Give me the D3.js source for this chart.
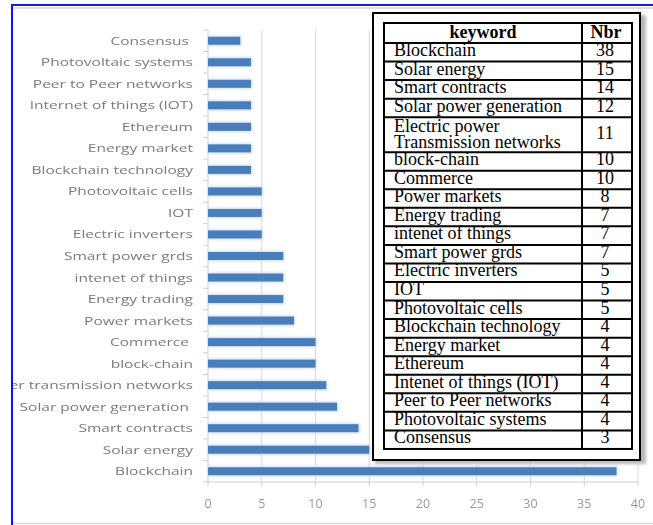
<!DOCTYPE html>
<html>
<head>
<meta charset="utf-8">
<script src="https://cdn.jsdelivr.net/npm/d3@7"></script>
<style>
  html, body { margin: 0; padding: 0; background: #fff; }
  svg { display: block; }
</style>
</head>
<body>
<svg id="chart" width="653" height="525"></svg>
<script>
// ---- data ----
const tableKeywords = [
  "Blockchain", "Solar energy", "Smart contracts", "Solar power generation",
  "Electric power\nTransmission networks", "block-chain", "Commerce", "Power markets",
  "Energy trading", "intenet of things", "Smart power grds", "Electric inverters",
  "IOT", "Photovoltaic cells", "Blockchain technology", "Energy market",
  "Ethereum", "Intenet of things (IOT)", "Peer to Peer networks",
  "Photovoltaic systems", "Consensus"
];
const chartLabels = [
  "Blockchain", "Solar energy", "Smart contracts", "Solar power generation ",
  "Electric power transmission networks", "block-chain", "Commerce ", "Power markets",
  "Energy trading", "intenet of things", "Smart power grds", "Electric inverters",
  "IOT", "Photovoltaic cells", "Blockchain technology", "Energy market",
  "Ethereum", "Internet of things (IOT)", "Peer to Peer networks",
  "Photovoltaic systems", "Consensus "
];
const counts = [38, 15, 14, 12, 11, 10, 10, 8, 7, 7, 7, 5, 5, 5, 4, 4, 4, 4, 4, 4, 3];
const xTicks = [0, 5, 10, 15, 20, 25, 30, 35, 40];
const tableHeader = ["keyword", "Nbr"];

// ---- setup ----
const svg = d3.select("#chart");
const defs = svg.append("defs");
defs.append("clipPath").attr("id", "frameClip")
  .append("rect").attr("x", 13).attr("y", 7).attr("width", 640).attr("height", 518);
const soft = defs.append("filter").attr("id", "soft").attr("x", "-5%").attr("y", "-20%").attr("width", "110%").attr("height", "140%");
soft.append("feGaussianBlur").attr("stdDeviation", 0.35);
const glow = defs.append("filter").attr("id", "glow").attr("x", "-5%").attr("y", "-60%").attr("width", "110%").attr("height", "220%");
glow.append("feGaussianBlur").attr("stdDeviation", 1.6);
const shadow = defs.append("filter").attr("id", "shadow").attr("x", "-10%").attr("y", "-10%").attr("width", "120%").attr("height", "120%");
shadow.append("feGaussianBlur").attr("stdDeviation", 1.5);

// frame
svg.append("line").attr("x1", 13).attr("x2", 653).attr("y1", 8).attr("y2", 8)
  .attr("stroke", "#d4d4d4").attr("stroke-width", 1.5);
svg.append("line").attr("x1", 13).attr("x2", 653).attr("y1", 523.5).attr("y2", 523.5)
  .attr("stroke", "#dcdcdc").attr("stroke-width", 1.5);

const plot = svg.append("g").attr("clip-path", "url(#frameClip)");

const x = d3.scaleLinear().domain([0, 40]).range([208, 638]);
const topDown = chartLabels.map((d, i) => i).reverse();
const y = d3.scaleBand().domain(topDown).range([30, 482]).paddingInner(0).paddingOuter(0);

// gridlines
plot.append("g").selectAll("line").data(xTicks.filter(t => t > 0)).join("line")
  .attr("x1", d => x(d)).attr("x2", d => x(d))
  .attr("y1", 30).attr("y2", 482)
  .attr("stroke", "#d9d9d9").attr("stroke-width", 1);

// y axis line & ticks
plot.append("line").attr("x1", x(0)).attr("x2", x(0)).attr("y1", 30).attr("y2", 482)
  .attr("stroke", "#d0d0d0").attr("stroke-width", 1);
const yEdges = topDown.map(i => y(i)).concat([y.range()[1]]);
plot.append("g").selectAll("line").data(yEdges).join("line")
  .attr("x1", x(0) - 5).attr("x2", x(0))
  .attr("y1", d => d).attr("y2", d => d)
  .attr("stroke", "#e6c9a8").attr("stroke-width", 1);

// bars glow
const barH = 8;
plot.append("g").attr("filter", "url(#glow)").selectAll("rect").data(counts).join("rect")
  .attr("x", x(0))
  .attr("y", (d, i) => y(i) + y.bandwidth() / 2 - barH / 2 - 1)
  .attr("width", d => x(d) - x(0) + 1)
  .attr("height", barH + 2)
  .attr("fill", "#c9dcf2");
plot.append("g").selectAll("rect").data(counts).join("rect")
  .attr("x", x(0))
  .attr("y", (d, i) => y(i) + y.bandwidth() / 2 - barH / 2)
  .attr("width", d => x(d) - x(0))
  .attr("height", barH)
  .attr("fill", "#4a7ebb");

// x axis
plot.append("line").attr("x1", x(0)).attr("x2", x(40)).attr("y1", 482).attr("y2", 482)
  .attr("stroke", "#cfcfb8").attr("stroke-width", 1);
plot.append("g").selectAll("line").data(xTicks).join("line")
  .attr("x1", d => x(d)).attr("x2", d => x(d)).attr("y1", 482).attr("y2", 486)
  .attr("stroke", "#d0d0c0").attr("stroke-width", 1);
plot.append("g").attr("filter", "url(#soft)").selectAll("text").data(xTicks).join("text")
  .attr("x", d => x(d)).attr("y", 508)
  .attr("text-anchor", "middle")
  .attr("font-family", "'Open Sans', sans-serif").attr("font-size", 12.5)
  .attr("fill", "#999999")
  .text(d => d);

// category labels
plot.append("g").attr("filter", "url(#soft)").selectAll("text").data(chartLabels).join("text")
  .attr("transform", (d, i) => `translate(193,${y(i) + y.bandwidth() / 2 + 4}) scale(1.35,1)`)
  .attr("text-anchor", "end")
  .style("white-space", "pre")
  .attr("font-family", "'Open Sans', sans-serif").attr("font-size", 11.5)
  .attr("fill", "#7a7a7a")
  .text(d => d);

// blue frame
svg.append("line").attr("x1", 12).attr("x2", 12).attr("y1", 4).attr("y2", 525)
  .attr("stroke", "#1010ff").attr("stroke-width", 2);
svg.append("line").attr("x1", 11).attr("x2", 653).attr("y1", 5).attr("y2", 5)
  .attr("stroke", "#1a1af0").attr("stroke-width", 2);

// ---- table ----
const box = { x0: 372, y0: 12, x1: 641, y1: 461 };
svg.append("rect").attr("x", box.x0 + 3).attr("y", box.y0 + 3)
  .attr("width", box.x1 - box.x0 + 2).attr("height", box.y1 - box.y0)
  .attr("fill", "#b8b8b8").attr("filter", "url(#shadow)");
svg.append("rect").attr("x", box.x0 + 1).attr("y", box.y0 + 1)
  .attr("width", box.x1 - box.x0 - 2).attr("height", box.y1 - box.y0 - 2)
  .attr("fill", "#fff").attr("stroke", "#000").attr("stroke-width", 2);

const tX0 = 384, tX1 = 632, tCol = 582, tY0 = 23;
const headH = 20, rowH = 18.55, lineStep = 16.4;
const rows = [];
let cy = tY0 + headH;
tableKeywords.forEach((k, i) => {
  const lines = k.split("\n");
  const h = rowH + (lines.length - 1) * lineStep;
  rows.push({ lines, n: counts[i], top: cy, h });
  cy += h;
});
const tY1 = cy;
const tbl = svg.append("g");
tbl.append("rect").attr("x", tX0).attr("y", tY0).attr("width", tX1 - tX0).attr("height", tY1 - tY0)
  .attr("fill", "none").attr("stroke", "#000").attr("stroke-width", 2);
tbl.append("line").attr("x1", tCol).attr("x2", tCol).attr("y1", tY0).attr("y2", tY1)
  .attr("stroke", "#000").attr("stroke-width", 2);
tbl.append("g").selectAll("line").data(rows).join("line")
  .attr("x1", tX0).attr("x2", tX1).attr("y1", d => d.top).attr("y2", d => d.top)
  .attr("stroke", "#000").attr("stroke-width", 2);

const serif = "'Liberation Serif', 'Times New Roman', serif";
tbl.append("text").attr("x", (tX0 + tCol) / 2).attr("y", tY0 + 14.5)
  .attr("text-anchor", "middle").attr("font-family", serif).attr("font-size", 18)
  .attr("font-weight", "bold").text(tableHeader[0]);
tbl.append("text").attr("x", (tCol + tX1) / 2 - 1).attr("y", tY0 + 14.5)
  .attr("text-anchor", "middle").attr("font-family", serif).attr("font-size", 18)
  .attr("font-weight", "bold").text(tableHeader[1]);

const rg = tbl.append("g").selectAll("g").data(rows).join("g");
rg.each(function(d) {
  const g = d3.select(this);
  const multi = d.lines.length > 1;
  d.lines.forEach((ln, j) => {
    g.append("text").attr("x", 394).attr("y", d.top + (multi ? 14.5 : 13) + j * lineStep)
      .attr("font-family", serif).attr("font-size", 18).attr("fill", "#000").text(ln);
  });
  g.append("text").attr("x", (tCol + tX1) / 2 - 2)
    .attr("y", d.top + (multi ? 22 : 13))
    .attr("text-anchor", "middle").attr("font-family", serif).attr("font-size", 18)
    .attr("fill", "#000").text(d.n);
});
</script>
</body>
</html>
